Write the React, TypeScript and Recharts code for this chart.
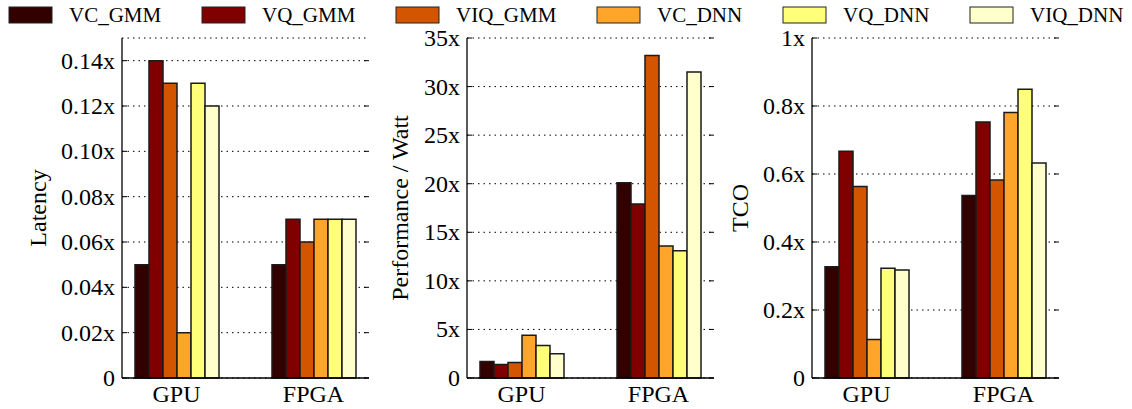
import { BarChart, Bar, XAxis, YAxis, CartesianGrid } from "recharts";

const categories = ["GPU", "FPGA"];
const seriesNames = ["VC_GMM", "VQ_GMM", "VIQ_GMM", "VC_DNN", "VQ_DNN", "VIQ_DNN"];
const seriesColors = ["#330000", "#800000", "#d45500", "#ffa62a", "#ffff7a", "#ffffcc"];

// values in series order, one array per platform
const latencyGpu = [0.05, 0.14, 0.13, 0.02, 0.13, 0.12];
const latencyFpga = [0.05, 0.07, 0.06, 0.07, 0.07, 0.07];
const perfWattGpu = [1.7, 1.4, 1.6, 4.4, 3.35, 2.5];
const perfWattFpga = [20.1, 17.9, 33.2, 13.6, 13.1, 31.5];
const tcoGpu = [0.327, 0.667, 0.563, 0.113, 0.323, 0.318];
const tcoFpga = [0.537, 0.753, 0.582, 0.781, 0.849, 0.632];

const latencyTicks = [0, 0.02, 0.04, 0.06, 0.08, 0.1, 0.12, 0.14];
const latencyTickLabels = ["0", "0.02x", "0.04x", "0.06x", "0.08x", "0.10x", "0.12x", "0.14x"];
const perfWattTicks = [0, 5, 10, 15, 20, 25, 30, 35];
const perfWattTickLabels = ["0", "5x", "10x", "15x", "20x", "25x", "30x", "35x"];
const tcoTicks = [0, 0.2, 0.4, 0.6, 0.8, 1];
const tcoTickLabels = ["0", "0.2x", "0.4x", "0.6x", "0.8x", "1x"];

const FONT = "'Liberation Serif', 'Times New Roman', serif";
const AXIS_W = 100; // left y-axis width inside each chart
const PLOT_W = 247;
const PLOT_L = AXIS_W;
const PLOT_R = AXIS_W + PLOT_W;
const PLOT_T = 38;
const PLOT_B = 378;
const CHART_H = 409;

// legend column starts (px from left of page)
const legendX = [9, 202, 396, 597, 783, 970];

function buildRows(gpu: number[], fpga: number[]) {
  return categories.map((name, ci) => {
    const vals = ci === 0 ? gpu : fpga;
    const row: Record<string, any> = { name };
    seriesNames.forEach((s, i) => (row[s] = vals[i]));
    return row;
  });
}

const YTick = (props: any) => {
  const { y, payload, ticks, labels } = props;
  const i = ticks.indexOf(payload.value);
  return (
    <g>
      <line x1={PLOT_L} x2={PLOT_L + 5} y1={y} y2={y} stroke="#000" strokeWidth={1} />
      <line x1={PLOT_R - 5} x2={PLOT_R} y1={y} y2={y} stroke="#000" strokeWidth={1} />
      <text x={PLOT_L - 7} y={y} dy={8} textAnchor="end" fontSize={24} fontFamily={FONT} fill="#000">
        {labels[i]}
      </text>
    </g>
  );
};

const XTick = (props: any) => {
  const { x, payload } = props;
  return (
    <text x={x} y={PLOT_B + 24} textAnchor="middle" fontSize={24} fontFamily={FONT} fill="#000">
      {payload.value}
    </text>
  );
};

const AxisTitle = (props: any) => {
  const { viewBox, text, tx } = props;
  const cy = viewBox ? viewBox.y + viewBox.height / 2 : (PLOT_T + PLOT_B) / 2;
  return (
    <text
      transform={`translate(${tx},${cy}) rotate(-90)`}
      textAnchor="middle"
      dy={8}
      fontSize={24}
      fontFamily={FONT}
      fill="#000"
    >
      {text}
    </text>
  );
};

interface PanelProps {
  left: number;
  rows: Record<string, any>[];
  domain: [number, number];
  ticks: number[];
  labels: string[];
  title: string;
  titleX: number;
}

function Panel({ left, rows, domain, ticks, labels, title, titleX }: PanelProps) {
  return (
    <div style={{ position: "absolute", left, top: 0 }}>
      <BarChart
        width={PLOT_R + 5}
        height={CHART_H}
        data={rows}
        margin={{ top: PLOT_T, right: 5, bottom: 0, left: 0 }}
        barGap={0}
        barSize={14}
      >
        <CartesianGrid vertical={false} stroke="#000" strokeDasharray="1.5 4" />
        <XAxis
          dataKey="name"
          height={CHART_H - PLOT_B}
          padding={{ left: -14, right: -13 }}
          tickLine={false}
          axisLine={{ stroke: "#000", strokeWidth: 1.3 }}
          tick={<XTick />}
        />
        <XAxis
          xAxisId="top"
          dataKey="name"
          orientation="top"
          height={0}
          tick={false}
          tickLine={false}
          axisLine={{ stroke: "#000", strokeWidth: 1.3 }}
        />
        <YAxis
          width={AXIS_W}
          type="number"
          domain={domain}
          ticks={ticks}
          interval={0}
          tickLine={false}
          axisLine={{ stroke: "#000", strokeWidth: 1.3 }}
          tick={<YTick ticks={ticks} labels={labels} />}
          label={<AxisTitle text={title} tx={titleX} />}
        />
        <YAxis
          yAxisId="right"
          orientation="right"
          width={0}
          domain={domain}
          tick={false}
          tickLine={false}
          axisLine={{ stroke: "#000", strokeWidth: 1.3 }}
        />
        {seriesNames.map((s, i) => (
          <Bar
            key={s}
            dataKey={s}
            fill={seriesColors[i]}
            stroke="#1a1a1a"
            strokeWidth={1.5}
            isAnimationActive={false}
          />
        ))}
      </BarChart>
    </div>
  );
}

function LegendRow() {
  return (
    <svg width={1132} height={32} style={{ position: "absolute", left: 0, top: 0 }}>
      {seriesNames.map((s, i) => (
        <g key={s}>
          <rect x={legendX[i]} y={7} width={43} height={16} fill={seriesColors[i]} stroke="#222" strokeWidth={1} />
          <text x={legendX[i] + 60} y={22} fontSize={21} fontFamily={FONT} fill="#000">
            {s}
          </text>
        </g>
      ))}
    </svg>
  );
}

export default function App() {
  return (
    <div
      style={{
        position: "fixed",
        left: 0,
        top: 0,
        width: 1132,
        height: 409,
        background: "#fff",
        overflow: "hidden",
      }}
    >
      <Panel
        left={122 - AXIS_W}
        rows={buildRows(latencyGpu, latencyFpga)}
        domain={[0, 0.15]}
        ticks={latencyTicks}
        labels={latencyTickLabels}
        title="Latency"
        titleX={38 - (122 - AXIS_W)}
      />
      <Panel
        left={467 - AXIS_W}
        rows={buildRows(perfWattGpu, perfWattFpga)}
        domain={[0, 35]}
        ticks={perfWattTicks}
        labels={perfWattTickLabels}
        title="Performance / Watt"
        titleX={400 - (467 - AXIS_W)}
      />
      <Panel
        left={812 - AXIS_W}
        rows={buildRows(tcoGpu, tcoFpga)}
        domain={[0, 1]}
        ticks={tcoTicks}
        labels={tcoTickLabels}
        title="TCO"
        titleX={740 - (812 - AXIS_W)}
      />
      <LegendRow />
    </div>
  );
}
